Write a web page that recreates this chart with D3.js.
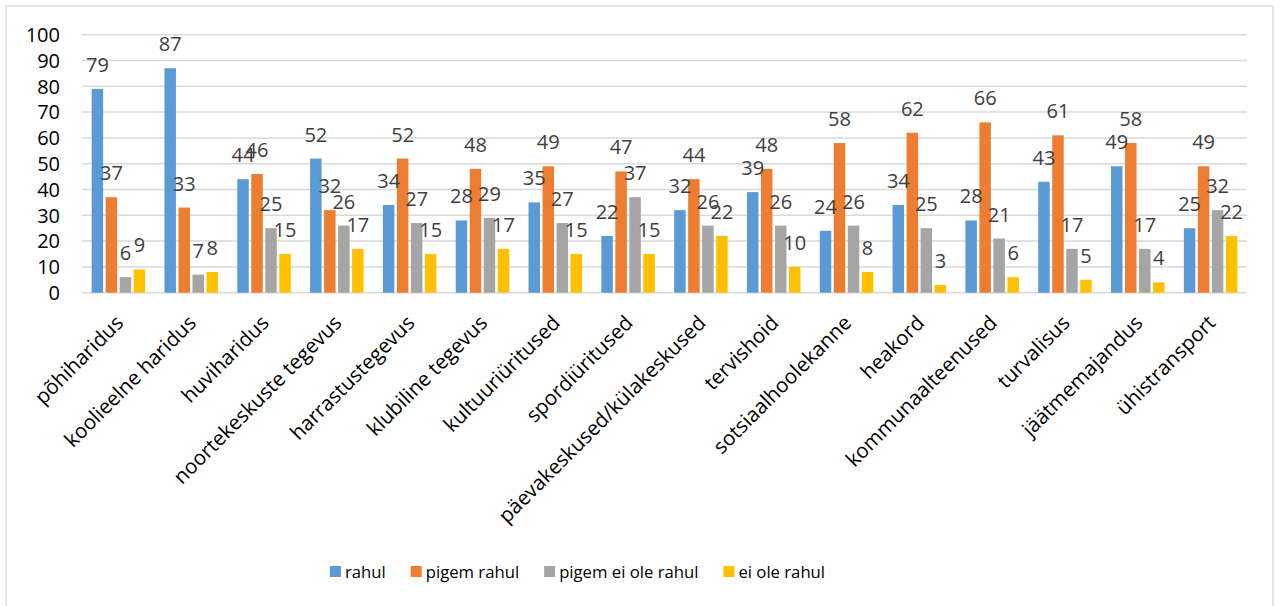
<!DOCTYPE html>
<html lang="et">
<head>
<meta charset="UTF-8">
<title>Rahulolu teenustega</title>
<script src="https://d3js.org/d3.v7.min.js"></script>
<style>
  body { margin: 0; background: #fff; }
  svg { display: block; font-family: "Open Sans", sans-serif; }
</style>
</head>
<body>
<svg id="chart" width="1280" height="606"></svg>
<script>
// categories and series values
const categories = ["põhiharidus", "koolieelne haridus", "huviharidus", "noortekeskuste tegevus",
  "harrastustegevus", "klubiline tegevus", "kultuuriüritused", "spordiüritused",
  "päevakeskused/külakeskused", "tervishoid", "sotsiaalhoolekanne", "heakord",
  "kommunaalteenused", "turvalisus", "jäätmemajandus", "ühistransport"];
const seriesNames = ["rahul", "pigem rahul", "pigem ei ole rahul", "ei ole rahul"];
const rahul          = [79, 87, 44, 52, 34, 28, 35, 22, 32, 39, 24, 34, 28, 43, 49, 25];
const pigemRahul     = [37, 33, 46, 32, 52, 48, 49, 47, 44, 48, 58, 62, 66, 61, 58, 49];
const pigemEiOleRahul = [6, 7, 25, 26, 27, 29, 27, 37, 26, 26, 26, 25, 21, 17, 17, 32];
const eiOleRahul     = [9, 8, 15, 17, 15, 17, 15, 15, 22, 10, 8, 3, 6, 5, 4, 22];
const yTicks = [0, 10, 20, 30, 40, 50, 60, 70, 80, 90, 100];

const colors = ["#5B9BD5", "#ED7D31", "#A5A5A5", "#FFC000"];
const seriesValues = [rahul, pigemRahul, pigemEiOleRahul, eiOleRahul];

const svg = d3.select("#chart");
const plot = { left: 82, right: 1247, top: 34.7, bottom: 292.7 };

// chart border
svg.append("rect")
  .attr("x", 6).attr("y", 6).attr("width", 1267).attr("height", 610)
  .attr("fill", "none").attr("stroke", "#D9D9D9").attr("stroke-width", 1.3);

const x0 = d3.scaleBand().domain(categories).range([plot.left, plot.right]).padding(0);
const groupW = 53.5;
const x1 = d3.scaleBand().domain(d3.range(4))
  .range([-groupW / 2, groupW / 2]).paddingInner(0.18).paddingOuter(0);
const y = d3.scaleLinear().domain([0, 100]).range([plot.bottom, plot.top]);

// gridlines
svg.append("g").selectAll("line").data(yTicks).join("line")
  .attr("x1", plot.left).attr("x2", plot.right)
  .attr("y1", d => y(d)).attr("y2", d => y(d))
  .attr("stroke", "#D9D9D9").attr("stroke-width", 1.5);

// y tick labels
svg.append("g").selectAll("text").data(yTicks).join("text")
  .attr("x", 60).attr("y", d => y(d)).attr("dy", "0.36em")
  .attr("text-anchor", "end").attr("font-size", 20).attr("fill", "#000")
  .text(d => d);

// bars
const groups = svg.append("g").selectAll("g").data(categories).join("g")
  .attr("transform", d => `translate(${x0(d) + x0.bandwidth() / 2},0)`);

groups.selectAll("rect")
  .data((c, i) => seriesValues.map((s, k) => ({ k, v: s[i] })))
  .join("rect")
  .attr("x", d => x1(d.k)).attr("width", x1.bandwidth())
  .attr("y", d => y(d.v)).attr("height", d => y(0) - y(d.v))
  .attr("fill", d => colors[d.k]);

// data labels
groups.selectAll("text")
  .data((c, i) => seriesValues.map((s, k) => ({ k, v: s[i] })))
  .join("text")
  .attr("x", d => x1(d.k) + x1.bandwidth() / 2)
  .attr("y", d => y(d.v) - 17)
  .attr("text-anchor", "middle").attr("font-size", 20).attr("fill", "#404040")
  .text(d => d.v);

// category labels
svg.append("g").selectAll("text").data(categories).join("text")
  .attr("transform", d => `translate(${x0(d) + x0.bandwidth() / 2 - 4},${314}) rotate(-45)`)
  .attr("text-anchor", "end").attr("dy", "0.7em")
  .attr("font-size", 20.5).attr("fill", "#000")
  .text(d => d);

// legend
const legend = svg.append("g");
let lx = 0;
seriesNames.forEach((name, k) => {
  const item = legend.append("g").attr("transform", `translate(${lx},0)`);
  item.append("rect").attr("x", 0).attr("y", -6).attr("width", 11).attr("height", 11)
    .attr("fill", colors[k]);
  const t = item.append("text").attr("x", 15).attr("y", 0).attr("dy", "0.36em")
    .attr("font-size", 16.7).attr("fill", "#000").text(name);
  lx += 15 + t.node().getComputedTextLength() + 25;
});
const legendW = lx - 25;
legend.attr("transform", `translate(${577.5 - legendW / 2},572)`);
</script>
</body>
</html>
